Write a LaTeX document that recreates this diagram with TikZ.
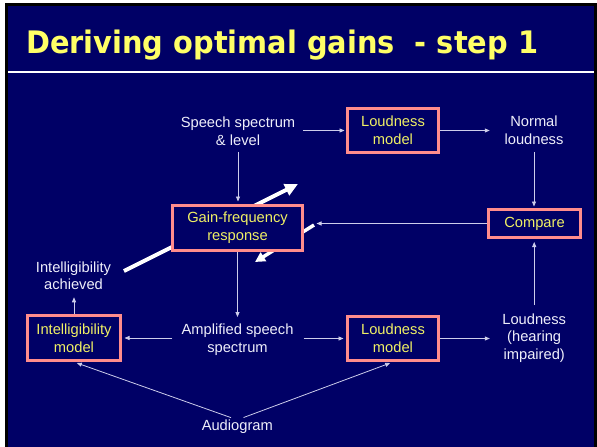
\documentclass[tikz,border=0pt]{standalone}
\usepackage{fontspec}
\setmainfont{Liberation Sans}
\newfontfamily\titlefont{DejaVu Sans}[FakeStretch=0.93]
\usetikzlibrary{arrows.meta}

\definecolor{slidebg}{RGB}{0,0,102}
\definecolor{boxedge}{RGB}{255,140,140}
\definecolor{boxtext}{RGB}{240,240,100}
\definecolor{titletext}{RGB}{255,255,102}
\definecolor{labeltext}{RGB}{238,238,250}
\definecolor{flowline}{RGB}{205,205,235}

\begin{document}
\begin{tikzpicture}[x=1pt,y=-1pt,
  every node/.style={font=\fontsize{14.7}{17.7}\selectfont, align=center, inner sep=0pt},
  lbltext/.style={text=labeltext},
  block/.style={draw=boxedge, line width=3pt, fill=slidebg, text=boxtext},
  flow/.style={draw=flowline, line width=0.8pt, -{Triangle[length=5pt,width=4pt]}},
  bigarrow/.style={draw=white, line width=4pt, -{Triangle[length=13pt,width=12pt]}}
]
\useasboundingbox (0,0) rectangle (597,447);

% slide frame and background
\fill[white] (0,0) rectangle (597,447);
\fill[black] (5,3) rectangle (597,447);
\fill[slidebg] (8,6) rectangle (594,447);
\draw[white, line width=2pt] (8,72) -- (594,72);

% title
\node[anchor=base west, text=titletext,
      font=\titlefont\bfseries\fontsize{31}{36}\selectfont] (title) at (26,53.3)
      {Deriving optimal gains\ \ - step 1};

% broad white arrows passing behind the gain block
\coordinate (sweepA) at (124,271);
\coordinate (sweepB) at (298,184);
\draw[bigarrow] (sweepA) -- (sweepB);
\coordinate (dipA) at (314,225);
\coordinate (dipB) at (255,262);
\draw[draw=white, line width=3.5pt, -{Triangle[length=10pt,width=10pt]}] (dipA) -- (dipB);

% blocks and labels
\node[lbltext] (speech) at (238,130.9) {Speech spectrum\\\& level};
\node[block, minimum width=91pt, minimum height=44pt] (ltop) at (393,130.5) {Loudness\\model};
\node[lbltext] (normal) at (534,130.5) {Normal\\loudness};
\node[block, minimum width=92pt, minimum height=28pt] (cmp) at (534.5,223.5) {Compare};
\node[block, minimum width=130pt, minimum height=45pt] (gain) at (237.5,228) {Gain-frequency\\response};
\node[lbltext] (ach) at (73.5,275.8) {Intelligibility\\achieved};
\node[block, minimum width=93pt, minimum height=45pt] (imodel) at (74,338) {Intelligibility\\model};
\node[lbltext] (amp) at (237.5,339.9) {Amplified speech\\spectrum};
\node[block, minimum width=91pt, minimum height=44pt] (lbot) at (393,338.5) {Loudness\\model};
\node[lbltext] (hi) at (534.2,337.9) {Loudness\\(hearing\\impaired)};
\node[lbltext] (audio) at (237.3,426.9) {Audiogram};

% signal flow
\draw[flow, shorten <=7.5pt, shorten >=1.5pt] (speech.east |- ltop.west) -- (ltop.west);
\draw[flow, shorten >=14.6pt] (ltop.east) -- (normal.west |- ltop.east);
\draw[flow, shorten <=7pt, shorten >=1.5pt] (normal.south) -- (normal.south |- cmp.north);
\draw[flow, shorten >=12.5pt] (cmp.west) -- (gain.east |- cmp.west);
\draw[flow, shorten <=6.5pt, shorten >=2.5pt] (speech.south) -- (speech.south |- gain.north);
\draw[flow, shorten >=7pt] (gain.south) -- (gain.south |- amp.north);
\draw[flow, shorten <=9pt, shorten >=2.5pt] (amp.west |- imodel.east) -- (imodel.east);
\draw[flow, shorten <=10pt, shorten >=2.5pt] (amp.east |- lbot.west) -- (lbot.west);
\draw[flow, shorten >=12.3pt] (lbot.east) -- (hi.west |- lbot.east);
\draw[flow, shorten <=8pt, shorten >=3pt] (hi.north) -- (hi.north |- cmp.south);
\draw[flow, shorten >=7pt] (imodel.north) -- (imodel.north |- ach.south);
\draw[flow, shorten <=6.7pt, shorten >=3pt] (audio.north) -- (imodel.south);
\draw[flow, shorten <=6.7pt, shorten >=3pt] (audio.north) -- (lbot.south);
\end{tikzpicture}
\end{document}
